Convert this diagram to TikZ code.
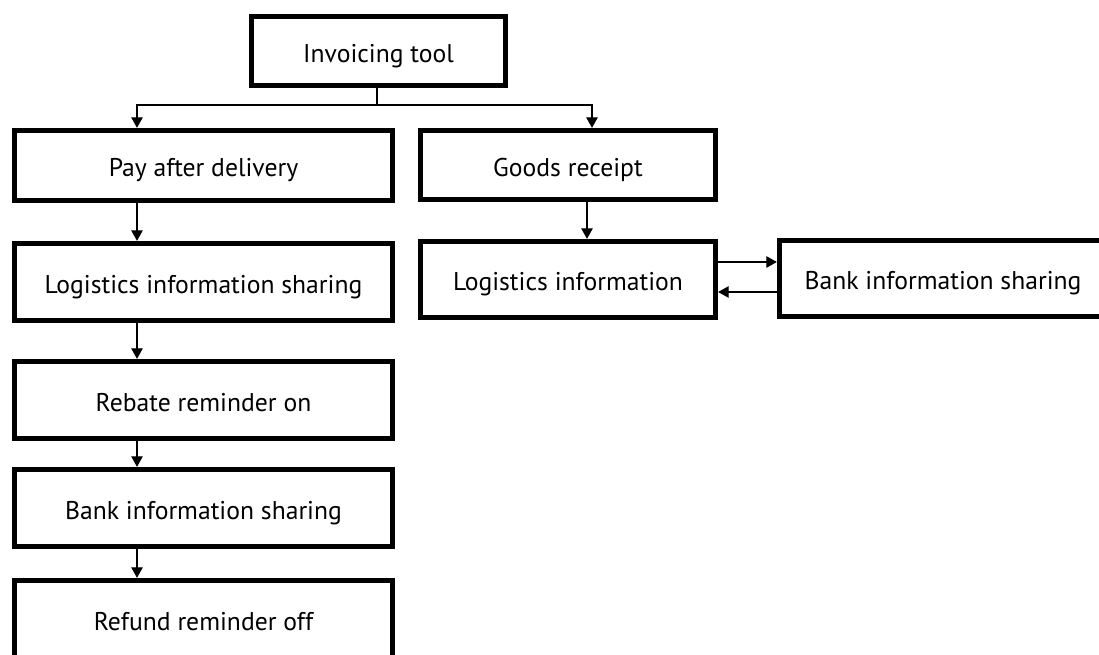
\documentclass[tikz,border=0pt]{standalone}
\usepackage{fontspec}
\setmainfont{PT Sans}
\usetikzlibrary{arrows.meta}

\tikzset{
  box/.style={draw, line width=3pt, inner sep=0pt, font=\fontsize{14.6}{17}\selectfont,
    text height=14pt, text depth=1pt, minimum width=7.56cm, minimum height=1.54cm},
  link/.style={line width=0.7pt, -{Triangle[length=6pt,width=6.5pt]}},
}

\begin{document}
\begin{tikzpicture}[x=0.02cm, y=-0.02cm]
  \useasboundingbox (0,0) rectangle (1099,655);
  \clip (0,0) rectangle (1099,655);

  % Top box
  \node[box, minimum width=5.08cm, minimum height=1.38cm] (tool) at (378.5,51) {Invoicing tool};

  % Left column
  \node[box, minimum height=1.40cm] (pay) at (203.5,165.5) {Pay after delivery};
  \node[box] (logs) at (203.5,282) {Logistics information sharing};
  \node[box] (rebate) at (203.5,400) {Rebate reminder on};
  \node[box] (bankl) at (203.5,508) {Bank information sharing};
  \node[box] (refund) at (203.5,619) {Refund reminder off};

  % Right column
  \node[box, minimum width=5.90cm, minimum height=1.38cm] (goods) at (568,165) {Goods receipt};
  \node[box, minimum width=5.90cm, minimum height=1.52cm] (logi) at (568,279.5) {Logistics information};
  \node[box, minimum width=6.54cm, minimum height=1.52cm] (bankr) at (943,278.5) {Bank information sharing};

  % Helper coordinates
  \coordinate (split) at (377,105);
  \coordinate (lcol) at (137,0);
  \coordinate (gcol) at (592,0);
  \coordinate (dcol) at (587,0);
  \coordinate (upr) at (0,262);
  \coordinate (lwr) at (0,292);

  % Connectors
  \draw[line width=0.7pt] (tool.south -| split) -- (split);
  \draw[link] (split) -| (pay.north -| lcol);
  \draw[link] (split) -| (goods.north -| gcol);
  \foreach \a/\b in {pay/logs, logs/rebate, rebate/bankl, bankl/refund}
    \draw[link] (\a.south -| lcol) -- (\b.north -| lcol);
  \draw[link] (goods.south -| dcol) -- (logi.north -| dcol);
  \draw[link] (logi.east |- upr) -- (bankr.west |- upr);
  \draw[link] (bankr.west |- lwr) -- (logi.east |- lwr);
\end{tikzpicture}
\end{document}
